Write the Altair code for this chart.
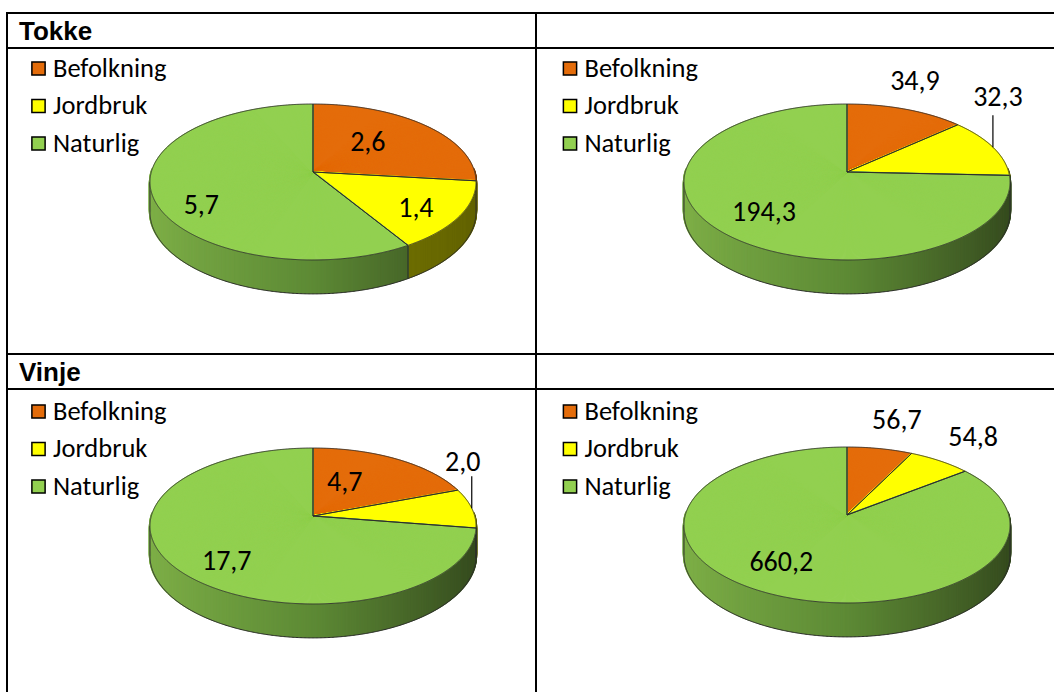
import math
import altair as alt
import pandas as pd

alt.data_transformers.disable_max_rows()

# ---- values -------------------------------------------------------------
CATEGORIES = ["Befolkning", "Jordbruk", "Naturlig"]
TOKKE_A = [2.6, 1.4, 5.7]
TOKKE_B = [34.9, 32.3, 194.3]
VINJE_A = [4.7, 2.0, 17.7]
VINJE_B = [56.7, 54.8, 660.2]
ROW_TITLES = ["Tokke", "Vinje"]

# ---- styling / layout ---------------------------------------------------
TOP_COLORS = ["#E46C0A", "#FFFF00", "#92D050"]
SIDE_RAMPS = {
    "Befolkning": (["#B85A08", "#7A3A04"], [-1, 1]),
    "Jordbruk": (["#8E8E06", "#626200"], [-1, 1]),
    "Naturlig": (["#7FB048", "#5D8A35", "#34491E"], [-1, 0, 1]),
}
PIES = [TOKKE_A, TOKKE_B, VINJE_A, VINJE_B]
CENTERS = [(313, 172), (847, 172), (313, 516), (847, 515)]
RX, RY, PERSP, DEPTH = 161.7, 76.7, 0.128, 29.6
STEP = math.radians(0.3)

# label anchor: radius fraction on the slice mid-angle, then a pixel nudge
LABEL_R = [[0.5, 0.75, 0.7], [1, 1, 0.6], [0.5, 1, 0.75], [1, 1, 0.6]]
LABEL_NUDGE = [
    [(-3, -5), (-5, 4), (0, 19)],
    [(9, -27), (5, -49), (-9, 7)],
    [(-12, -3), (-9, -45), (12, 6)],
    [(17, -28), (33, -23), (-20, 4)],
]
LEADER = [[0, 0, 0], [0, 1, 0], [0, 1, 0], [0, 0, 0]]
LEADER_LEN = 32

LEGEND_X = [38.5, 570, 38.5, 570]
LEGEND_Y = [68.5, 68.5, 411.5, 411.5]
LEGEND_GAP = 37.5

W, H = 1054, 692
LABEL_FONT = "Carlito, Lato, sans-serif"


def fmt(v):
    return f"{v:.1f}".replace(".", ",")


# ---- build sampled tables from the values ------------------------------
surface, outline, bottom, edges, labels = [], [], [], [], []
front = math.acos(-PERSP)
for p, (vals, (cx, cy)) in enumerate(zip(PIES, CENTERS)):
    total = sum(vals)
    start = 0.0
    for s, v in enumerate(vals):
        end = start + v / total * 2 * math.pi
        n = max(2, math.ceil((end - start) / STEP))
        thetas = [start + (end - start) * i / n for i in range(n + 1)]
        sid = f"{p}-{s}"
        outline.append(dict(sid=sid, idx=-1, theta=start, r=0, cx=cx, cy=cy))
        for i, t in enumerate(thetas):
            surface.append(dict(pie=p, cat=CATEGORIES[s], theta=t, r=1, cx=cx, cy=cy))
            outline.append(dict(sid=sid, idx=i, theta=t, r=1, cx=cx, cy=cy))
        outline.append(dict(sid=sid, idx=n + 1, theta=end, r=0, cx=cx, cy=cy))
        if front < start < 2 * math.pi - front:
            edges.append(dict(theta=start, r=1, cx=cx, cy=cy))
        mid = (start + end) / 2
        labels.append(dict(
            text=fmt(v), theta=mid, r=LABEL_R[p][s],
            dx=LABEL_NUDGE[p][s][0], dy=LABEL_NUDGE[p][s][1],
            leader=LEADER[p][s], cx=cx, cy=cy,
        ))
        start = end
    nb = 400
    for i in range(nb + 1):
        t = front + (2 * math.pi - 2 * front) * i / nb
        bottom.append(dict(sid=p, idx=i, theta=t, r=1, cx=cx, cy=cy))
    edges.append(dict(theta=front, r=1, cx=cx, cy=cy))
    edges.append(dict(theta=2 * math.pi - front, r=1, cx=cx, cy=cy))

surface = pd.DataFrame(surface)
outline = pd.DataFrame(outline)
bottom = pd.DataFrame(bottom)
edges = pd.DataFrame(edges)
labels = pd.DataFrame(labels)

legend = pd.DataFrame([
    dict(cat=c, mx=LEGEND_X[p], my=LEGEND_Y[p] + i * LEGEND_GAP, tx=LEGEND_X[p] + 14.5)
    for p in range(4) for i, c in enumerate(CATEGORIES)
])
titles = pd.DataFrame([dict(text=t, x=19, y=y) for t, y in zip(ROW_TITLES, [40, 381])])
grid = pd.DataFrame([
    dict(x1=7, x2=W, y1=13, y2=13),
    dict(x1=7, x2=W, y1=48, y2=48),
    dict(x1=7, x2=W, y1=354, y2=354),
    dict(x1=7, x2=W, y1=389, y2=389),
    dict(x1=7, x2=7, y1=12, y2=H),
    dict(x1=536, x2=536, y1=12, y2=H),
])

XS = alt.Scale(domain=[0, W], nice=False, zero=False)
YS = alt.Scale(domain=[0, H], nice=False, zero=False, reverse=True)


def X(f):
    return alt.X(f, scale=XS, axis=None)


def Y(f):
    return alt.Y(f, scale=YS, axis=None)


def project(ch):
    """Perspective projection of (theta, r) onto the tilted pie disc."""
    return (
        ch.transform_calculate(w=f"1 + {PERSP}*datum.r*cos(datum.theta)")
        .transform_calculate(x=f"datum.cx + {RX}*datum.r*sin(datum.theta)/datum.w")
        .transform_calculate(y=f"datum.cy - {RY}*datum.r*cos(datum.theta)/datum.w")
        .transform_calculate(yb=f"datum.y + {DEPTH}/datum.w")
        .transform_calculate(shade="sin(datum.theta)")
    )


layers = []

# side walls, one gradient per category
for cat in CATEGORIES:
    rng, dom = SIDE_RAMPS[cat]
    layers.append(
        project(alt.Chart(surface))
        .transform_filter(f"datum.cat == '{cat}' && cos(datum.theta) < 0.05")
        .mark_rule(strokeWidth=2.2, strokeCap="butt")
        .encode(
            x=X("x:Q"), y=Y("y:Q"), y2="yb:Q",
            color=alt.Color("shade:Q", scale=alt.Scale(domain=dom, range=rng), legend=None),
        )
    )

# side outline: bottom rim and vertical edges
layers.append(
    project(alt.Chart(bottom))
    .mark_line(color="#2b2b2b", strokeWidth=1)
    .encode(x=X("x:Q"), y=Y("yb:Q"), detail="sid:N", order="idx:Q")
)
layers.append(
    project(alt.Chart(edges))
    .mark_rule(color="#2b2b2b", strokeWidth=1)
    .encode(x=X("x:Q"), y=Y("y:Q"), y2="yb:Q")
)

# top surface
layers.append(
    project(alt.Chart(surface))
    .mark_rule(strokeWidth=1.6, strokeCap="butt")
    .encode(
        x=X("x:Q"), y=Y("y:Q"), x2="cx:Q", y2="cy:Q",
        color=alt.Color("cat:N", scale=alt.Scale(domain=CATEGORIES, range=TOP_COLORS), legend=None),
    )
)
layers.append(
    project(alt.Chart(outline))
    .mark_line(color="#2b2b2b", strokeWidth=0.9)
    .encode(x=X("x:Q"), y=Y("y:Q"), detail="sid:N", order="idx:Q")
)

# leader lines and data labels
layers.append(
    project(alt.Chart(labels))
    .transform_filter("datum.leader == 1")
    .transform_calculate(yt=f"datum.y - {LEADER_LEN}")
    .mark_rule(color="black", strokeWidth=1.2)
    .encode(x=X("x:Q"), y=Y("y:Q"), y2="yt:Q")
)
layers.append(
    project(alt.Chart(labels))
    .transform_calculate(lx="datum.x + datum.dx", ly="datum.y + datum.dy")
    .mark_text(font=LABEL_FONT, fontSize=28, align="center", baseline="middle", color="black")
    .encode(x=X("lx:Q"), y=Y("ly:Q"), text="text:N")
)

# legends
layers.append(
    alt.Chart(legend)
    .mark_square(size=175, filled=True, opacity=1, stroke="black", strokeWidth=1.5)
    .encode(
        x=X("mx:Q"), y=Y("my:Q"),
        color=alt.Color("cat:N", scale=alt.Scale(domain=CATEGORIES, range=TOP_COLORS), legend=None),
    )
)
layers.append(
    alt.Chart(legend)
    .mark_text(font=LABEL_FONT, fontSize=26.5, align="left", baseline="middle", color="black")
    .encode(x=X("tx:Q"), y=Y("my:Q"), text="cat:N")
)

# table frame and row titles
layers.append(
    alt.Chart(grid)
    .mark_rule(color="black", strokeWidth=2)
    .encode(x=X("x1:Q"), x2="x2:Q", y=Y("y1:Q"), y2="y2:Q")
)
layers.append(
    alt.Chart(titles)
    .mark_text(font="Liberation Sans", fontSize=26, fontWeight="bold",
               align="left", baseline="alphabetic", color="black")
    .encode(x=X("x:Q"), y=Y("y:Q"), text="text:N")
)

chart = (
    alt.layer(*layers)
    .resolve_scale(color="independent")
    .properties(width=W, height=H, autosize=alt.AutoSizeParams(type="none"), padding=0,
                background="white")
    .configure_view(stroke=None)
)

chart.save("out.html", embed_options={"renderer": "svg", "actions": False})
